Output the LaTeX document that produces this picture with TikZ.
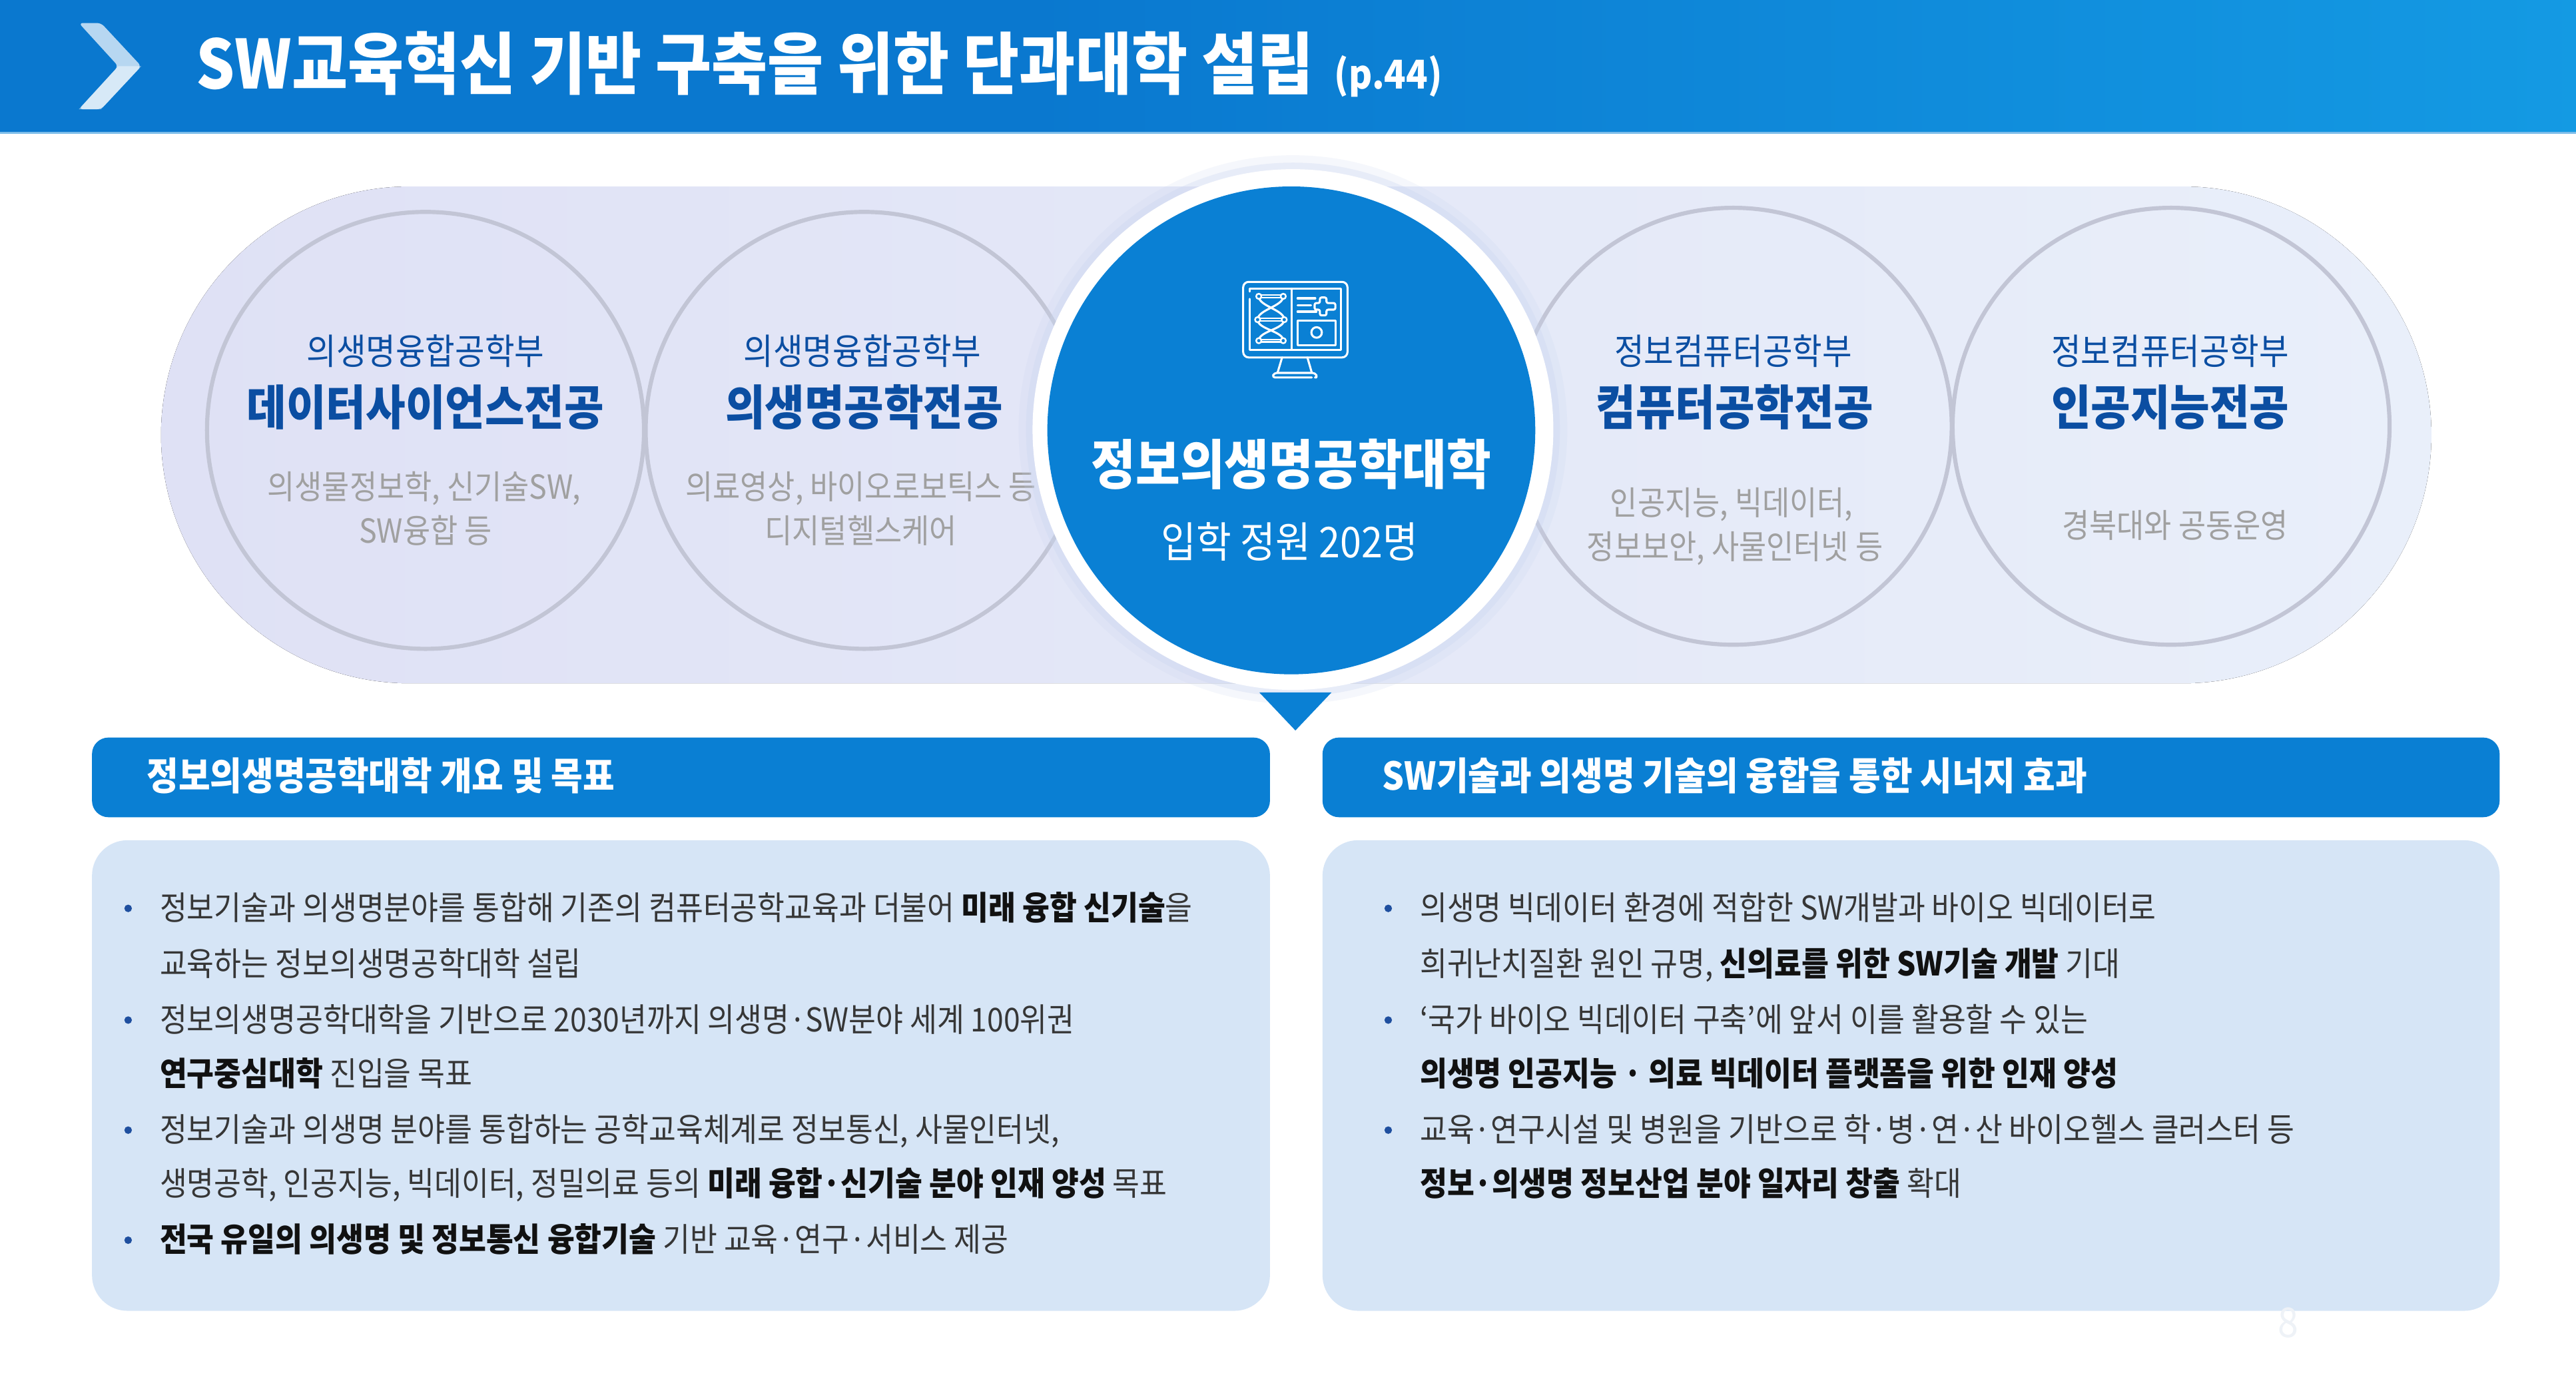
\documentclass[tikz,border=0pt]{standalone}
\usepackage{fontspec}
\setmainfont{Noto Sans CJK KR}[FakeStretch=0.9]
\definecolor{hdrA}{HTML}{0A78CF}
\definecolor{hdrB}{HTML}{1CB6F4}
\definecolor{hdrline}{HTML}{7DBDEA}
\definecolor{chev}{HTML}{D6E8F7}
\definecolor{pillA}{HTML}{DFE1F5}
\definecolor{pillB}{HTML}{E9EFFA}
\definecolor{ringgray}{HTML}{C2C5D5}
\definecolor{cblue}{HTML}{0A80D4}
\definecolor{dkblue}{HTML}{0B4EA2}
\definecolor{gtext}{HTML}{A0A0A0}
\definecolor{boxbg}{HTML}{D6E5F6}
\definecolor{barblue}{HTML}{0A7FD3}
\definecolor{btext}{HTML}{363636}
\definecolor{bbold}{HTML}{111111}
\definecolor{bulletc}{HTML}{1F4F9F}
\definecolor{glow}{HTML}{C9D5F0}
\definecolor{pagec}{HTML}{EEF2F7}
\pgfdeclarehorizontalshading{hdrshade}{100bp}{color(0bp)=(hdrA); color(45bp)=(hdrA); color(100bp)=(hdrB)}
\begin{document}
\begin{tikzpicture}[x=0.6pt,y=-0.6pt,
  subt/.style={text=dkblue, font=\fontsize{13.1}{15}\selectfont, anchor=base, inner sep=0pt},
  major/.style={text=dkblue, font=\fontsize{17.5}{20}\selectfont\bfseries, anchor=base, inner sep=0pt},
  greyt/.style={text=gtext, font=\fontsize{12.1}{14}\selectfont, anchor=base, inner sep=0pt},
  bodyt/.style={text=btext, font=\fontsize{12}{14}\selectfont, anchor=base west, inner sep=0pt},
  bartext/.style={text=white, font=\fontsize{14}{16}\selectfont\bfseries, anchor=base west, inner sep=0pt},
  contentbox/.style={fill=boxbg, rounded corners=13pt},
  minor/.style={draw=ringgray, line width=1.5pt},
  bul/.style={fill=bulletc},
  icon/.style={draw=white, line width=0.75pt, line cap=round, line join=round}
]
\useasboundingbox (0,0) rectangle (1568,851.3);
\fill[white] (0,0) rectangle (1568,851.3);

% header
\fill[shading=hdrshade] (0,0) rectangle (1568,81);
\draw[hdrline, line width=0.8pt] (0,81) -- (1568,81);
\fill[chev, opacity=0.85, rounded corners=1.5pt] (48,14) -- (61.5,14) -- (86,40.3) -- (61.5,66.5) -- (48,66.5) -- (72,40.3) -- cycle;
\fill[white, opacity=0.45] (72,40.3) -- (86,40.3) -- (61.5,66.5) -- (48,66.5) -- cycle;
\node[anchor=base west, text=white, font=\fontsize{24.7}{28}\selectfont\bfseries, inner sep=0pt] (title) at (119,54) {SW교육혁신 기반 구축을 위한 단과대학 설립};
\node[anchor=base west, text=white, font=\fontsize{14.5}{16}\selectfont\bfseries, inner sep=0pt] (pageref) at (812,54) {(p.44)};

% background pill
\fill[left color=pillA, right color=pillB, rounded corners=91pt] (98,113.5) rectangle (1480,416);

% minor circles
\draw[minor] (259,262) circle[radius=133];
\draw[minor] (526,262) circle[radius=133];
\draw[minor] (1055,259.5) circle[radius=133];
\draw[minor] (1321.5,259.5) circle[radius=133];

% circle texts
\node[subt] (s1) at (259,222) {의생명융합공학부};
\node[major] (m1) at (259,259) {데이터사이언스전공};
\node[greyt] (g1a) at (258,304) {의생물정보학, 신기술SW,};
\node[greyt] (g1b) at (259,330.5) {SW융합 등};

\node[subt] (s2) at (525,222) {의생명융합공학부};
\node[major] (m2) at (526,259) {의생명공학전공};
\node[greyt] (g2a) at (524,304) {의료영상, 바이오로보틱스 등};
\node[greyt] (g2b) at (524,330.5) {디지털헬스케어};

\node[subt] (s3) at (1055,222) {정보컴퓨터공학부};
\node[major] (m3) at (1056,259) {컴퓨터공학전공};
\node[greyt] (g3a) at (1054,313.5) {인공지능, 빅데이터,};
\node[greyt] (g3b) at (1056,340.5) {정보보안, 사물인터넷 등};

\node[subt] (s4) at (1321,222) {정보컴퓨터공학부};
\node[major] (m4) at (1321,259) {인공지능전공};
\node[greyt] (g4a) at (1324,327.5) {경북대와 공동운영};

% central circle
\fill[glow, opacity=0.18] (787,261.5) circle[radius=167];
\fill[glow, opacity=0.3] (787,261.5) circle[radius=162.5];
\fill[white] (787,261.5) circle[radius=158.5];
\fill[cblue] (786,262) circle[radius=148.5];

% icon
\draw[icon, rounded corners=2pt] (756.7,171.6) rectangle (820.2,217.6);
\draw[icon] (760.8,182) -- (760.8,213) -- (816.2,213) -- (816.2,175.7) -- (760.8,175.7) -- (760.8,177.5);
\draw[icon] (786.4,175.7) -- (786.4,213);
% dna
\draw[icon] (766.2,180.4) .. controls (766.2,186.5) and (781.7,188.5) .. (781.7,194.6);
\draw[icon] (781.1,180.4) .. controls (781.1,186.5) and (765.5,188.5) .. (765.5,194.6);
\draw[icon] (765.5,194.6) .. controls (765.5,200.5) and (781.1,201.5) .. (781.1,207.4);
\draw[icon] (781.7,194.6) .. controls (781.7,200.5) and (766.2,201.5) .. (766.2,207.4);
\draw[icon, line width=0.55pt] (767.5,179.6) -- (779.8,179.6) (767.5,181.2) -- (779.8,181.2);
\draw[icon, line width=0.55pt] (767,193.8) -- (780.2,193.8) (767,195.4) -- (780.2,195.4);
\draw[icon, line width=0.55pt] (767.5,206.6) -- (779.8,206.6) (767.5,208.2) -- (779.8,208.2);
\foreach \px/\py in {766.2/180.4, 781.1/180.4, 765.5/194.6, 781.7/194.6, 766.2/207.4, 781.1/207.4}
  \draw[icon, fill=cblue, line width=0.6pt] (\px,\py) circle[radius=1.6];
% right panel
\draw[icon] (789.8,181.6) -- (800.6,181.6);
\draw[icon] (789.8,185.7) -- (798,185.7);
\draw[icon] (789.8,189.7) -- (801.3,189.7);
\draw[icon, rounded corners=0.6pt] (803.4,181.1) -- (807.4,181.1) -- (807.4,184.5) -- (812.8,184.5) -- (812.8,188.5) -- (807.4,188.5) -- (807.4,192) -- (803.4,192) -- (803.4,188.5) -- (800.2,188.5) -- (800.2,184.5) -- (803.4,184.5) -- cycle;
\draw[icon] (789.8,195.2) rectangle (812.8,210);
\draw[icon] (801.4,202.4) circle[radius=3.2];
% stand
\draw[icon] (780.4,217.6) -- (777.6,227);
\draw[icon] (795.8,217.6) -- (798.5,227);
\draw[icon, rounded corners=1pt] (798.5,229.8) -- (774.4,229.8) -- (775.5,227) -- (800.5,227) -- (802.1,229.8) -- (801.3,229.8);

% central texts
\node[anchor=base, text=white, font=\fontsize{19.6}{22}\selectfont\bfseries, inner sep=0pt] (college) at (786,295) {정보의생명공학대학};
\node[anchor=base, text=white, font=\fontsize{15.5}{18}\selectfont, inner sep=0pt] (quota) at (785,339.5) {입학 정원 202명};

% pointer
\fill[cblue] (766.5,421.5) -- (810.5,421.5) -- (788.5,444.7) -- cycle;

% bars
\fill[barblue, rounded corners=6pt] (56,449) rectangle (773,497.5);
\fill[barblue, rounded corners=6pt] (805,449) rectangle (1521.5,497.5);
\node[bartext] (bl) at (89,481) {정보의생명공학대학 개요 및 목표};
\node[bartext] (br) at (841,481) {SW기술과 의생명 기술의 융합을 통한 시너지 효과};

% content boxes
\fill[contentbox] (56,511.5) rectangle (773,798);
\fill[contentbox] (805,511.5) rectangle (1521.5,798);

% left bullets
\foreach \by in {553,621,688,755} \fill[bul] (78,\by) circle[radius=2.3];
\node[bodyt] (l1) at (97,560) {정보기술과 의생명분야를 통합해 기존의 컴퓨터공학교육과 더불어 {\color{bbold}\bfseries 미래 융합 신기술}을};
\node[bodyt] (l2) at (97,594) {교육하는 정보의생명공학대학 설립};
\node[bodyt] (l3) at (97,628) {정보의생명공학대학을 기반으로 2030년까지 의생명·SW분야 세계 100위권};
\node[bodyt] (l4) at (97,661) {{\color{bbold}\bfseries 연구중심대학} 진입을 목표};
\node[bodyt] (l5) at (97,695) {정보기술과 의생명 분야를 통합하는 공학교육체계로 정보통신, 사물인터넷,};
\node[bodyt] (l6) at (97,728) {생명공학, 인공지능, 빅데이터, 정밀의료 등의 {\color{bbold}\bfseries 미래 융합·신기술 분야 인재 양성} 목표};
\node[bodyt] (l7) at (97,762) {{\color{bbold}\bfseries 전국 유일의 의생명 및 정보통신 융합기술} 기반 교육·연구·서비스 제공};

% right bullets
\foreach \by in {553,621,688} \fill[bul] (845,\by) circle[radius=2.3];
\node[bodyt] (r1) at (864,560) {의생명 빅데이터 환경에 적합한 SW개발과 바이오 빅데이터로};
\node[bodyt] (r2) at (864,594) {희귀난치질환 원인 규명, {\color{bbold}\bfseries 신의료를 위한 SW기술 개발} 기대};
\node[bodyt] (r3) at (864,628) {‘국가 바이오 빅데이터 구축’에 앞서 이를 활용할 수 있는};
\node[bodyt] (r4) at (864,661) {{\color{bbold}\bfseries 의생명 인공지능 · 의료 빅데이터 플랫폼을 위한 인재 양성}};
\node[bodyt] (r5) at (864,695) {교육·연구시설 및 병원을 기반으로 학·병·연·산 바이오헬스 클러스터 등};
\node[bodyt] (r6) at (864,728) {{\color{bbold}\bfseries 정보·의생명 정보산업 분야 일자리 창출} 확대};

% page number
\node[anchor=base, text=pagec, font=\fontsize{15}{17}\selectfont, inner sep=0pt] (pnum) at (1393,814) {8};
\end{tikzpicture}
\end{document}
